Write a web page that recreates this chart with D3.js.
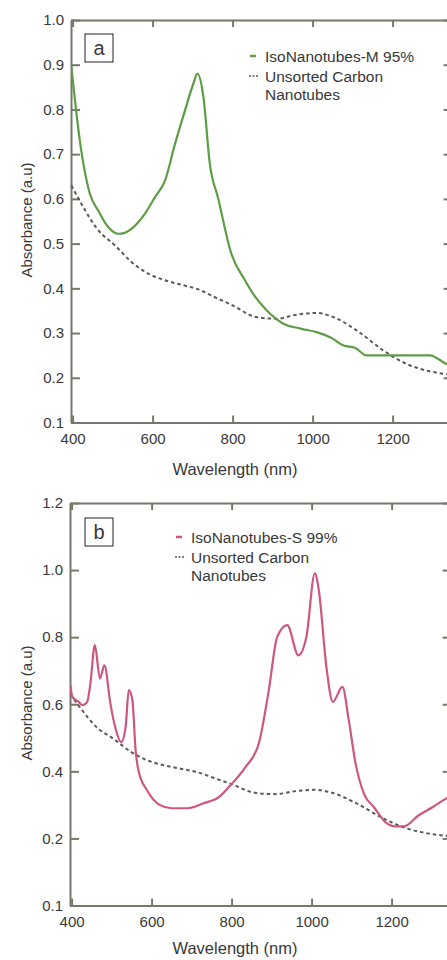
<!DOCTYPE html>
<html lang="en">
<head>
<meta charset="UTF-8">
<script src="https://d3js.org/d3.v7.min.js"></script>
<style>
  body { margin: 0; background: #fff; }
  svg text { font-family: "Liberation Sans", Arial, sans-serif; fill: #383838; }
  .axis path, .axis line { stroke: #77776a; stroke-width: 2; }
</style>
</head>
<body>
<svg id="svg" width="447" height="960"></svg>
<script>
// ---- data ----
var xTicks = [400, 600, 800, 1000, 1200];

// panel a
var wavelengthM = [397, 418, 443, 464, 489, 514, 530, 547, 581, 606, 631, 656, 681, 702, 712, 727, 743, 764, 797, 831, 851, 885, 927, 970, 1010, 1045, 1077, 1106, 1135, 1200, 1293, 1335, 1345];
var isoM = [0.895, 0.731, 0.612, 0.574, 0.537, 0.522, 0.524, 0.533, 0.567, 0.604, 0.641, 0.723, 0.798, 0.858, 0.88, 0.828, 0.679, 0.601, 0.477, 0.418, 0.388, 0.351, 0.321, 0.31, 0.302, 0.29, 0.272, 0.267, 0.25, 0.25, 0.25, 0.231, 0.228];
var yTicksA = [0.1, 0.2, 0.3, 0.4, 0.5, 0.6, 0.7, 0.8, 0.9, 1.0];
var yLabelsA = ["0.1", "0.2", "0.3", "0.4", "0.5", "0.6", "0.7", "0.8", "0.9", "1.0"];

// unsorted reference (same in both panels)
var wavelengthU = [397, 422, 464, 506, 547, 589, 631, 672, 716, 756, 800, 858, 910, 960, 1010, 1051, 1110, 1177, 1235, 1290, 1345];
var unsorted = [0.63, 0.589, 0.53, 0.496, 0.459, 0.433, 0.418, 0.408, 0.397, 0.38, 0.362, 0.336, 0.332, 0.341, 0.345, 0.336, 0.306, 0.261, 0.231, 0.215, 0.207];

// panel b
var wavelengthS = [397, 402, 418, 427, 439, 447, 458, 471, 482, 497, 510, 524, 535, 543, 552, 560, 568, 589, 620, 650, 690, 730, 768, 793, 835, 868, 893, 914, 939, 967, 987, 1008, 1018, 1037, 1053, 1077, 1093, 1110, 1131, 1156, 1185, 1210, 1231, 1268, 1302, 1335, 1345];
var isoS = [0.657, 0.622, 0.607, 0.597, 0.607, 0.662, 0.776, 0.677, 0.716, 0.602, 0.527, 0.487, 0.532, 0.642, 0.612, 0.463, 0.398, 0.343, 0.30, 0.29, 0.29, 0.305, 0.323, 0.353, 0.413, 0.483, 0.642, 0.801, 0.836, 0.746, 0.801, 0.99, 0.94, 0.711, 0.607, 0.652, 0.552, 0.423, 0.333, 0.293, 0.248, 0.236, 0.236, 0.269, 0.293, 0.318, 0.325];
var yTicksB = [0, 0.2, 0.4, 0.6, 0.8, 1.0, 1.2];
var yLabelsB = ["0.1", "0.2", "0.4", "0.6", "0.8", "1.0", "1.2"];

var svg = d3.select("#svg");

function drawPanel(p) {
  var g = svg.append("g");
  var x = d3.scaleLinear().domain([396, 1345]).range([p.left, p.left + 949 * 0.4]);
  var y = d3.scaleLinear().domain(p.yDomain).range([p.bottom, p.top]);

  g.append("clipPath").attr("id", "clip" + p.name)
    .append("rect").attr("x", p.left).attr("y", p.top)
    .attr("width", 447 - p.left).attr("height", p.bottom - p.top);

  // frame with inward ticks
  g.append("g").attr("class", "axis").attr("transform", "translate(" + p.left + ",0)")
    .call(d3.axisLeft(y).tickValues(p.yTicks).tickSizeInner(-9).tickSizeOuter(0).tickPadding(7)
      .tickFormat((d, i) => p.yLabels[i]));
  g.append("g").attr("class", "axis").attr("transform", "translate(" + x.range()[1] + ",0)")
    .call(d3.axisRight(y).tickValues(p.yTicks).tickSizeInner(-7).tickSizeOuter(0).tickFormat(""));
  g.append("g").attr("class", "axis").attr("transform", "translate(0," + p.bottom + ")")
    .call(d3.axisBottom(x).tickValues(xTicks).tickSizeInner(-7).tickSizeOuter(0).tickPadding(11)
      .tickFormat(d3.format("d")));
  g.append("g").attr("class", "axis").attr("transform", "translate(0," + p.top + ")")
    .call(d3.axisTop(x).tickValues(xTicks).tickSizeInner(-7).tickSizeOuter(0).tickFormat(""));
  g.selectAll(".axis text").style("font-size", "15px").attr("fill", "#383838");
  g.selectAll(".axis .domain").attr("stroke", "#77776a");

  var line = d3.line().x(d => x(d[0])).y(d => y(d[1])).curve(d3.curveMonotoneX);
  var curves = g.append("g").attr("clip-path", "url(#clip" + p.name + ")");

  curves.append("path")
    .datum(d3.zip(wavelengthU, unsorted))
    .attr("d", line)
    .attr("fill", "none")
    .attr("stroke", "#5a5a5a")
    .attr("stroke-width", 2)
    .attr("stroke-dasharray", "3.5,3");

  curves.append("path")
    .datum(d3.zip(p.wl, p.values))
    .attr("d", line)
    .attr("fill", "none")
    .attr("stroke", p.color)
    .attr("stroke-width", 2.2);

  // panel letter box
  g.append("rect").attr("x", 85).attr("y", p.boxY).attr("width", 28).attr("height", 28)
    .attr("fill", "#fff").attr("stroke", "#222").attr("stroke-width", 1);
  g.append("text").attr("x", 99).attr("y", p.boxY + 21).attr("text-anchor", "middle")
    .style("font-size", "20px").attr("fill", "#222").text(p.name);

  // legend
  g.append("line").attr("x1", p.legX - 15).attr("x2", p.legX - 9)
    .attr("y1", p.legY).attr("y2", p.legY).attr("stroke", p.color).attr("stroke-width", 2.5);
  g.append("line").attr("x1", p.legX - 16).attr("x2", p.legX - 7)
    .attr("y1", p.legY + 20).attr("y2", p.legY + 20).attr("stroke", "#5a5a5a")
    .attr("stroke-width", 1.5).attr("stroke-dasharray", "2,1.5");
  var leg = g.append("text").attr("x", p.legX).attr("y", p.legY + 6).style("font-size", "15.5px");
  leg.append("tspan").attr("x", p.legX).text(p.label);
  leg.append("tspan").attr("x", p.legX).attr("dy", 20).text("Unsorted Carbon");
  leg.append("tspan").attr("x", p.legX).attr("dy", 17.5).text("Nanotubes");

  // axis titles
  g.append("text").attr("x", 235).attr("y", p.bottom + p.titleGap).attr("text-anchor", "middle")
    .style("font-size", "16.5px").text("Wavelength (nm)");
  g.append("text").attr("transform", "translate(32," + p.yMid + ") rotate(-90)")
    .attr("text-anchor", "middle").style("font-size", "15px").text("Absorbance (a.u)");
}

drawPanel({
  name: "a", left: 71, top: 20, bottom: 422.5, yDomain: [0.1, 1.0],
  yTicks: yTicksA, yLabels: yLabelsA, wl: wavelengthM, values: isoM,
  color: "#5e9c45", label: "IsoNanotubes-M 95%", boxY: 34, legX: 265, legY: 56, yMid: 220, titleGap: 52
});
drawPanel({
  name: "b", left: 70, top: 503, bottom: 905.5, yDomain: [0, 1.2],
  yTicks: yTicksB, yLabels: yLabelsB, wl: wavelengthS, values: isoS,
  color: "#cf577f", label: "IsoNanotubes-S 99%", boxY: 518, legX: 191, legY: 537, yMid: 703, titleGap: 48
});
</script>
</body>
</html>
